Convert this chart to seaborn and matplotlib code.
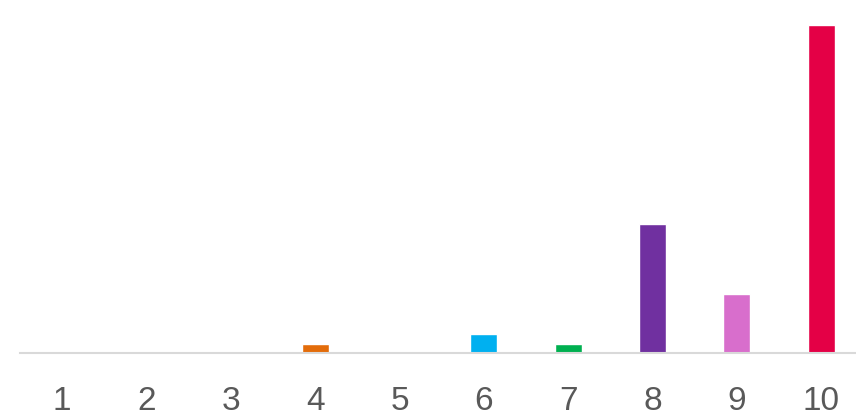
import matplotlib
matplotlib.use("Agg")
import matplotlib.pyplot as plt
import seaborn as sns
import pandas as pd

categories = ["1", "2", "3", "4", "5", "6", "7", "8", "9", "10"]
values = [0, 0, 0, 9, 0, 19, 9, 129, 59, 328]
colors = ["#4472C4", "#ED7D31", "#A5A5A5", "#E36C0A", "#FFC000",
          "#00B0F0", "#00B050", "#7030A0", "#D86ECC", "#E40046"]

sns.set_theme(style="white")
plt.rcParams["font.family"] = ["Liberation Sans", "DejaVu Sans"]

df = pd.DataFrame({"cat": categories, "val": values})

fig = plt.figure(figsize=(8.56, 4.11), dpi=100)
ax = fig.add_axes([20.0 / 856, 58 / 411, 843.4 / 856, 328 / 411])
sns.barplot(data=df, x="cat", y="val", hue="cat", palette=colors,
            order=categories, hue_order=categories, width=0.32,
            legend=False, ax=ax, saturation=1)
ax.set_xlim(-0.5, 9.5)
ax.set_ylim(0, 328)
for s in ["top", "right", "left"]:
    ax.spines[s].set_visible(False)
ax.spines["bottom"].set_color("#D9D9D9")
ax.spines["bottom"].set_linewidth(1.5)
ax.set_yticks([])
ax.set_xlabel("")
ax.set_ylabel("")
ax.tick_params(axis="x", length=0, pad=24, labelsize=24, labelcolor="#595959")
fig.savefig("out.png", dpi=100)
